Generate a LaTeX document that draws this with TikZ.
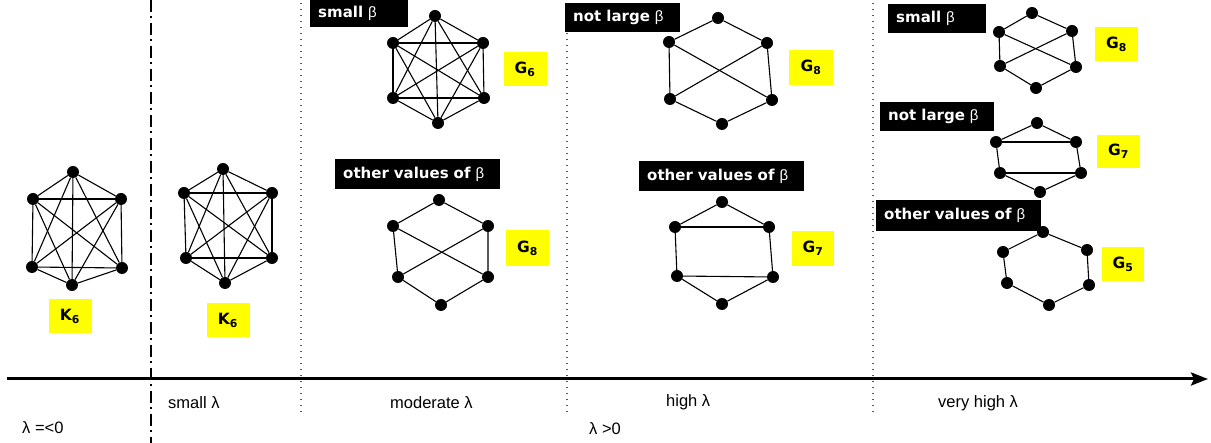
\documentclass[tikz,border=0pt]{standalone}
\usepackage{fontspec}
\setmainfont{Liberation Sans}
\newfontfamily\heavyfont{DejaVu Sans}
\newfontfamily\greekfont{Liberation Sans}
\usetikzlibrary{arrows.meta}
\definecolor{labelyellow}{RGB}{255,255,0}
\definecolor{dotgray}{RGB}{90,90,90}

% six vertices of a hexagon-shaped graph: name, top, upper left, upper right, lower left, lower right, bottom
\newcommand\hexgraph[7]{%
  \node[vtx] (#1t)  at (#2) {};
  \node[vtx] (#1ul) at (#3) {};
  \node[vtx] (#1ur) at (#4) {};
  \node[vtx] (#1ll) at (#5) {};
  \node[vtx] (#1lr) at (#6) {};
  \node[vtx] (#1b)  at (#7) {};
}
% outer cycle
\newcommand\ringedges[1]{%
  \draw[edge] (#1t) -- (#1ul) -- (#1ll) -- (#1b) -- (#1lr) -- (#1ur) -- (#1t);
}
% the two long diagonals crossing in the middle
\newcommand\crossedges[1]{%
  \draw[edge] (#1ul) -- (#1lr);
  \draw[edge] (#1ur) -- (#1ll);
}
% the two horizontal chords
\newcommand\chordedges[1]{%
  \draw[edge] (#1ul) -- (#1ur);
  \draw[edge] (#1ll) -- (#1lr);
}
% every pair of vertices
\newcommand\completeedges[1]{%
  \foreach \u/\v in {t/ul,t/ur,t/ll,t/lr,t/b,ul/ur,ul/ll,ul/lr,ul/b,ur/ll,ur/lr,ur/b,ll/lr,ll/b,lr/b}
    \draw[edge] (#1\u) -- (#1\v);
}

\begin{document}
\begin{tikzpicture}[x=1pt,y=-1pt,
  vtx/.style={circle,fill=black,inner sep=0pt,minimum size=12pt},
  edge/.style={line width=1.1pt,black},
  axisline/.style={line width=3pt,-{Stealth[length=17pt,width=13pt,inset=3pt]}},
  divider/.style={line width=2.5pt,dash pattern=on 12.5pt off 4pt on 1.5pt off 5pt},
  sep/.style={line width=1.2pt,dotgray,dash pattern=on 1.2pt off 4.8pt},
  axislabel/.style={anchor=west,inner sep=0pt,font=\fontsize{16.5}{19}\selectfont},
  darkbox/.style={fill=black,text=white,anchor=north west,inner xsep=8pt,inner ysep=0pt,
    align=left,font=\heavyfont\bfseries\fontsize{15}{17}\selectfont},
  namebox/.style={fill=labelyellow,inner sep=0pt,minimum width=43pt,minimum height=34pt,
    font=\heavyfont\bfseries\fontsize{15.5}{17}\selectfont}
]
\useasboundingbox (0,0) rectangle (1211,443);

% regime separators
\coordinate (ddTop) at (151,0);   \coordinate (ddBot) at (151,443);
\coordinate (s1Top) at (301,3);   \coordinate (s1Bot) at (301,413);
\coordinate (s2Top) at (567,3);   \coordinate (s2Bot) at (567,413);
\coordinate (s3Top) at (873,3);   \coordinate (s3Bot) at (873,413);
\draw[divider] (ddTop) -- (ddBot);
\draw[sep] (s1Top) -- (s1Bot);
\draw[sep] (s2Top) -- (s2Bot);
\draw[sep] (s3Top) -- (s3Bot);

% lambda axis
\coordinate (axS) at (7,379);
\coordinate (axE) at (1208,379);
\draw[axisline] (axS) -- (axE);

\node[axislabel] (lneg)  at (22,428)  {λ =<0};
\node[axislabel] (lsml)  at (168,403) {small λ};
\node[axislabel] (lmod)  at (390,403) {moderate λ};
\node[axislabel] (lpos)  at (589,429) {λ >0};
\node[axislabel] (lhigh) at (666,402) {high λ};
\node[axislabel] (lvhi)  at (938,403) {very high λ};

% beta boxes
\node[darkbox,text width=82pt, minimum height=27pt] (b1) at (310,0)   {small {\greekfont\mdseries β}};
\node[darkbox,text width=149pt,minimum height=30pt] (b2) at (335,159) {other values of {\greekfont\mdseries β}};
\node[darkbox,text width=99pt, minimum height=29pt] (b3) at (565,3)   {not large {\greekfont\mdseries β}};
\node[darkbox,text width=149pt,minimum height=30pt] (b4) at (639,161) {other values of {\greekfont\mdseries β}};
\node[darkbox,text width=82pt, minimum height=29pt] (b5) at (888,4)   {small {\greekfont\mdseries β}};
\node[darkbox,text width=98pt, minimum height=29pt] (b6) at (880,102) {not large {\greekfont\mdseries β}};
\node[darkbox,text width=149pt,minimum height=31pt] (b7) at (876,200) {other values of {\greekfont\mdseries β}};

% lambda =< 0 : complete graph
\hexgraph{A}{73,172}{33,199}{121,199}{32,267}{122,268}{72,285}
\completeedges{A}
\node[namebox] (nA) at (70,316) {K\textsubscript{6}};

% small lambda : complete graph
\hexgraph{B}{223,169}{184,193}{272,193}{186,258}{272,258}{225,283}
\completeedges{B}
\node[namebox] (nB) at (228,320) {K\textsubscript{6}};

% moderate lambda
\hexgraph{C}{435,16}{393,43}{483,43}{393,98}{484,98}{438,123}
\completeedges{C}
\node[namebox] (nC) at (525,69) {G\textsubscript{6}};

\hexgraph{D}{439,200}{393,226}{488,226}{398,277}{488,277}{441,305}
\ringedges{D}
\crossedges{D}
\node[namebox,minimum height=36pt] (nD) at (527.5,248) {G\textsubscript{8}};

% high lambda
\hexgraph{E}{718,18}{669,42}{767,43}{670,99}{772,100}{722,124}
\ringedges{E}
\crossedges{E}
\node[namebox,minimum width=44pt,minimum height=35pt] (nE) at (811,67.5) {G\textsubscript{8}};

\hexgraph{F}{722,202}{675,227}{769,227}{677,276}{773,277}{722,304}
\ringedges{F}
\chordedges{F}
\node[namebox,minimum width=42pt,minimum height=35pt] (nF) at (813,248.5) {G\textsubscript{7}};

% very high lambda
\hexgraph{G}{1032,13}{999,32}{1072,31}{1000,66}{1076,67}{1036,88}
\ringedges{G}
\crossedges{G}
\node[namebox] (nG) at (1116.5,44) {G\textsubscript{8}};

\hexgraph{H}{1037,123}{996,142}{1076,142}{1000,173}{1081,173}{1040,192}
\ringedges{H}
\chordedges{H}
\node[namebox,minimum height=33pt] (nH) at (1118.5,151.5) {G\textsubscript{7}};

\hexgraph{I}{1043,232}{1003,252}{1087,250}{1007,283}{1089,285}{1049,305}
\ringedges{I}
\node[namebox,minimum width=42pt] (nI) at (1123,264) {G\textsubscript{5}};

\end{tikzpicture}
\end{document}
